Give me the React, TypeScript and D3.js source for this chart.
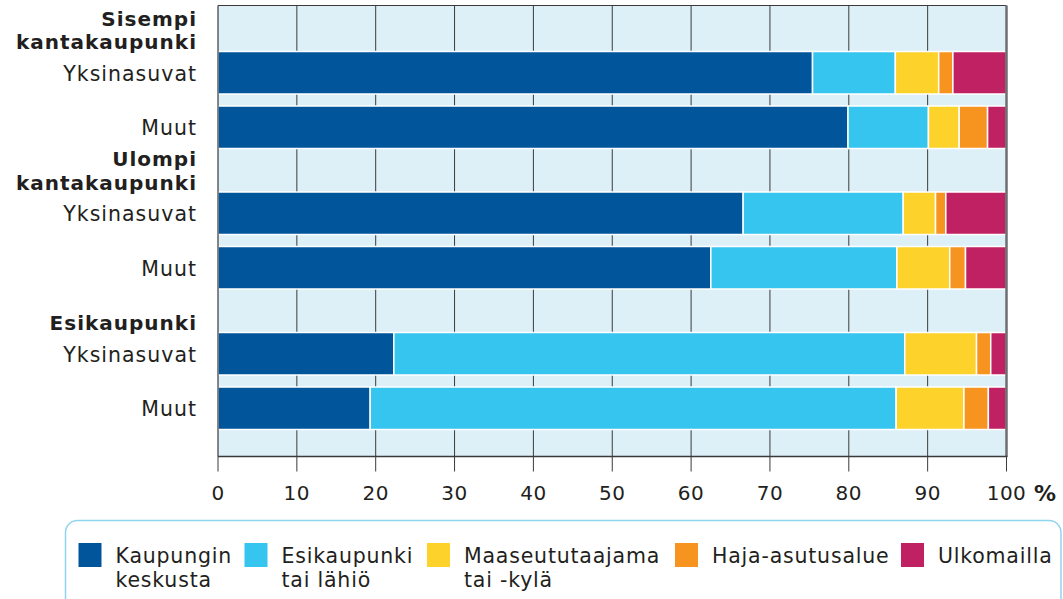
import React from "react";
import * as d3 from "d3";

const groupLabels: string[][] = [
  ["Sisempi", "kantakaupunki"],
  ["Ulompi", "kantakaupunki"],
  ["Esikaupunki"],
];
const subgroups = ["Yksinasuvat", "Muut"];

const categories = [
  "Kaupungin keskusta",
  "Esikaupunki tai lähiö",
  "Maaseututaajama tai -kylä",
  "Haja-asutusalue",
  "Ulkomailla",
];
const legendLines: string[][] = [
  ["Kaupungin", "keskusta"],
  ["Esikaupunki", "tai lähiö"],
  ["Maaseututaajama", "tai -kylä"],
  ["Haja-asutusalue"],
  ["Ulkomailla"],
];

// rows: Sisempi Y, Sisempi M, Ulompi Y, Ulompi M, Esikaupunki Y, Esikaupunki M
const kaupunginKeskusta = [75.4, 79.9, 66.6, 62.5, 22.3, 19.3];
const esikaupunkiLahio = [10.5, 10.2, 20.3, 23.6, 64.8, 66.7];
const maaseututaajama = [5.5, 3.9, 4.1, 6.7, 9.1, 8.6];
const hajaAsutusalue = [1.8, 3.6, 1.3, 2.0, 1.8, 3.1];
const ulkomailla = [6.8, 2.4, 7.7, 5.2, 2.0, 2.3];

const xTicks = [0, 10, 20, 30, 40, 50, 60, 70, 80, 90, 100];

const colors = ["#00559b", "#36c5ef", "#fdd22b", "#f7941f", "#c02163"];

const W = 1063;
const H = 599;
const plotLeft = 218;
const plotRight = 1006.5;
const plotTop = 5.5;
const plotBottom = 456.5;
const groupStep = 140.5;
const legendSwatchX = [78.5, 244.5, 427, 675, 901];

const FONT = "'DejaVu Sans', sans-serif";
const TEXT = "#231f20";

export default function App() {
  const x = d3.scaleLinear().domain([0, 100]).range([plotLeft, plotRight]);
  const groupScale = d3
    .scaleBand<number>()
    .domain(d3.range(groupLabels.length))
    .range([plotTop, plotTop + groupStep * groupLabels.length]);
  const inner = d3
    .scaleBand<string>()
    .domain(subgroups)
    .range([46, 46 + 97])
    .paddingInner(12 / 54.5)
    .paddingOuter(0);

  const rows = groupLabels.flatMap((_, gi) =>
    subgroups.map((s, si) => {
      const i = gi * subgroups.length + si;
      return {
        gi,
        sub: s,
        values: [
          kaupunginKeskusta[i],
          esikaupunkiLahio[i],
          maaseututaajama[i],
          hajaAsutusalue[i],
          ulkomailla[i],
        ],
      };
    })
  );
  const stack = d3
    .stack<any, number>()
    .keys(d3.range(categories.length))
    .value((d: any, k: number) => d.values[k]);
  const series = stack(rows as any);
  const rowY = (r: any) => (groupScale(r.gi) as number) + (inner(r.sub) as number);
  const bh = inner.bandwidth();

  return (
    <div style={{ position: "fixed", left: 0, top: 0, width: W, height: H, background: "#fff" }}>
      <svg width={W} height={H} style={{ display: "block" }}>
        {/* plot background */}
        <rect x={plotLeft} y={plotTop} width={plotRight - plotLeft} height={plotBottom - plotTop} fill="#def0f7" />
        {/* gridlines */}
        {xTicks.slice(1, -1).map((t) => (
          <line key={"g" + t} x1={x(t)} x2={x(t)} y1={plotTop} y2={plotBottom} stroke="#3a3a3a" strokeWidth={1} />
        ))}
        {/* bars */}
        {series.map((s, ci) => (
          <g key={ci} fill={colors[ci]}>
            {s.map((d, ri) => (
              <rect
                key={ri}
                x={x(d[0])}
                y={rowY(rows[ri])}
                width={Math.max(0, x(d[1]) - x(d[0]))}
                height={bh}
                stroke="#ffffff"
                strokeWidth={1.5}
              />
            ))}
          </g>
        ))}
        {/* frame */}
        <line x1={plotLeft} x2={plotRight} y1={plotTop} y2={plotTop} stroke="#3a3a3a" strokeWidth={1} />
        <line x1={plotLeft} x2={plotLeft} y1={plotTop} y2={plotBottom} stroke="#3a3a3a" strokeWidth={1.2} />
        <line x1={plotRight} x2={plotRight} y1={plotTop} y2={plotBottom} stroke="#6d6e71" strokeWidth={2.5} />
        <line x1={plotLeft} x2={plotRight + 1} y1={plotBottom} y2={plotBottom} stroke="#3a3a3a" strokeWidth={1.5} />
        {/* ticks */}
        {xTicks.map((t) => (
          <g key={"t" + t}>
            <line x1={x(t)} x2={x(t)} y1={plotBottom} y2={plotBottom + 15} stroke="#3a3a3a" strokeWidth={1} />
            <text
              x={x(t)}
              y={500}
              textAnchor="middle"
              fontFamily={FONT}
              fontSize={20}
              fill={TEXT}
              letterSpacing={0.5}
            >
              {t}
            </text>
          </g>
        ))}
        <text x={1034} y={501} fontFamily={FONT} fontSize={22} fontWeight="bold" fill={TEXT}>
          %
        </text>
        {/* group headers */}
        {groupLabels.map((lines, gi) => {
          const firstBarTop = (groupScale(gi) as number) + (inner(subgroups[0]) as number);
          const lastBase = firstBarTop - 2.5;
          return lines.map((l, li) => (
            <text
              key={"h" + gi + "-" + li}
              x={197}
              y={lastBase - (lines.length - 1 - li) * 23.3}
              textAnchor="end"
              fontFamily={FONT}
              fontSize={20}
              fontWeight="bold"
              fill={TEXT}
              letterSpacing={1}
            >
              {l}
            </text>
          ));
        })}
        {/* row labels */}
        {rows.map((r, ri) => (
          <text
            key={"r" + ri}
            x={197}
            y={rowY(r) + bh / 2 + 8}
            textAnchor="end"
            fontFamily={FONT}
            fontSize={20.5}
            fill={TEXT}
            letterSpacing={1}
          >
            {r.sub}
          </text>
        ))}
        {/* legend */}
        <rect x={65.5} y={520.5} width={995.5} height={100} rx={12} ry={12} fill="none" stroke="#8fd5ee" strokeWidth={1.5} />
        {categories.map((c, ci) => (
          <g key={"l" + c}>
            <rect x={legendSwatchX[ci]} y={543} width={23} height={24} fill={colors[ci]} />
            <text fontFamily={FONT} fontSize={20.5} fill={TEXT} letterSpacing={0.8}>
              {legendLines[ci].map((l, li) => (
                <tspan key={li} x={legendSwatchX[ci] + 37} y={562.5 + li * 24.5}>
                  {l}
                </tspan>
              ))}
            </text>
          </g>
        ))}
      </svg>
    </div>
  );
}
